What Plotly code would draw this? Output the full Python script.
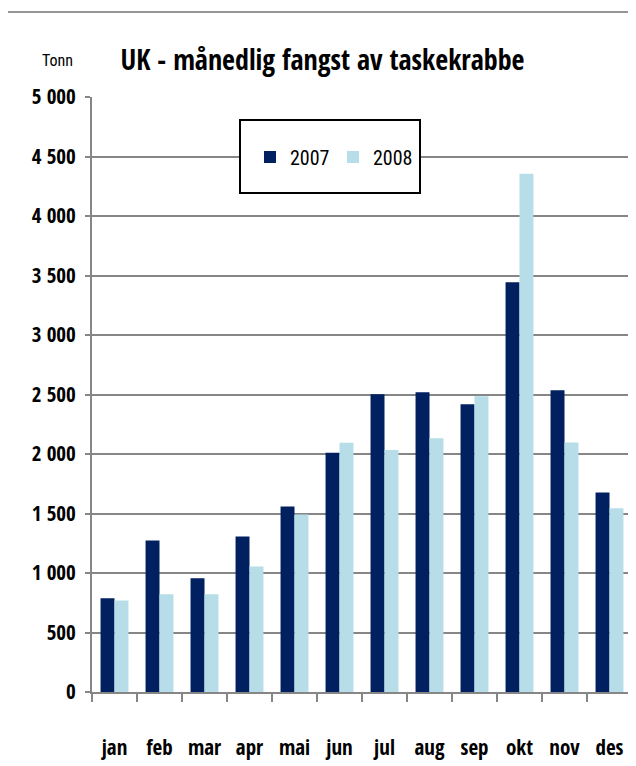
import plotly.graph_objects as go

months = ["jan", "feb", "mar", "apr", "mai", "jun", "jul", "aug", "sep", "okt", "nov", "des"]
y2007 = [787, 1273, 955, 1307, 1558, 2010, 2503, 2518, 2419, 3444, 2536, 1677]
y2008 = [768, 821, 821, 1055, 1491, 2094, 2034, 2133, 2485, 4354, 2097, 1544]
yticks = [0, 500, 1000, 1500, 2000, 2500, 3000, 3500, 4000, 4500, 5000]

BOLD = "Open Sans Condensed, Roboto Condensed, sans-serif"
REG = "Roboto Condensed, Open Sans Condensed, sans-serif"

# page has an 8px body margin; work in page coordinates and convert
OFF = 8
W, H = 636 - OFF, 766 - OFF
PL, PR, PT, PB = 92, 632, 97, 692  # plot area in page pixels
L, R, T, B = PL - OFF, W - (PR - OFF), PT - OFF, H - (PB - OFF)
PW, PH = PR - PL, PB - PT

def px(x):
    return (x - PL) / PW

def py(y):
    return 1 - (y - PT) / PH

fig = go.Figure()
fig.add_trace(go.Bar(x=months, y=y2007, name="2007", marker=dict(color="#002060", line=dict(width=0))))
fig.add_trace(go.Bar(x=months, y=y2008, name="2008", marker=dict(color="#B7DEE8", line=dict(width=0))))

fig.update_layout(
    width=W, height=H,
    margin=dict(l=L, r=R, t=T, b=B, pad=0),
    paper_bgcolor="white", plot_bgcolor="white",
    barmode="group", bargap=0.38, bargroupgap=0,
    separators=", ",
    font=dict(family=REG, color="black"),
    title=dict(text="<b>UK - månedlig fangst av taskekrabbe</b>", xref="container", x=(322.5 - OFF) / W,
               xanchor="center", y=1 - (60 - OFF) / H, yanchor="middle",
               font=dict(size=28, family=BOLD, color="black")),
    showlegend=True,
    legend=dict(orientation="h", x=px(250), y=py(157), xanchor="left", yanchor="middle",
                bgcolor="rgba(0,0,0,0)", borderwidth=0,
                font=dict(size=20, family=REG, color="black"),
                entrywidth=38, entrywidthmode="pixels", itemwidth=30, tracegroupgap=0),
    xaxis=dict(showgrid=False, showline=True, linecolor="#868686", linewidth=2,
               ticks="outside", ticklen=8, tickcolor="#868686", tickwidth=1.5, tickson="boundaries",
               tickangle=0, tickfont=dict(size=21, family=BOLD, color="black"), ticklabelstandoff=36),
    yaxis=dict(range=[0, 5000], tickvals=yticks, tickformat=",d", showgrid=True, gridcolor="#868686", gridwidth=1.5,
               showline=True, linecolor="#868686", linewidth=2, ticks="outside", ticklen=5,
               tickcolor="#868686", tickwidth=1.5, zeroline=False, ticklabelstandoff=5,
               tickfont=dict(size=21, family=BOLD, color="black")),
)

# legend frame
fig.add_shape(type="rect", xref="paper", yref="paper", x0=px(240), x1=px(420), y0=py(193), y1=py(120),
              fillcolor="white", line=dict(color="black", width=2), layer="above")

# "Tonn" label and top rule
fig.add_annotation(text="Tonn", xref="paper", yref="paper", x=px(57), y=py(60),
                   xanchor="center", yanchor="middle", showarrow=False,
                   font=dict(size=16, family=REG, color="black"))
fig.add_shape(type="line", xref="paper", yref="paper", x0=px(OFF), x1=px(636),
              y0=py(12), y1=py(12), line=dict(color="#969696", width=2))

fig.write_html("out.html")
